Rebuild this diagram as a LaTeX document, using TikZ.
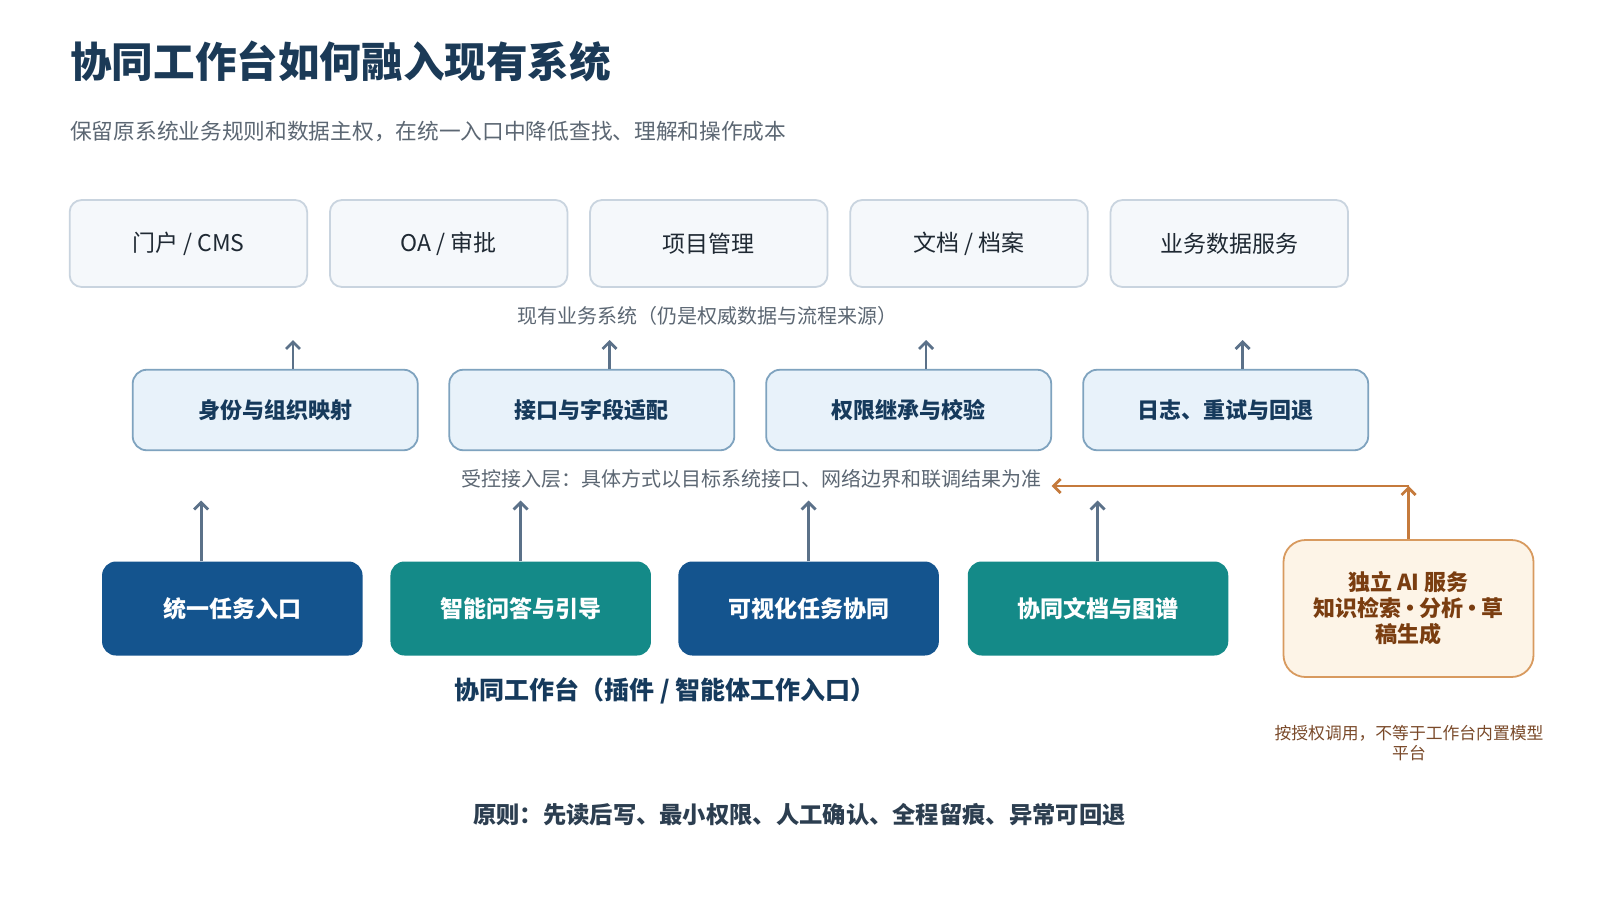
\documentclass[tikz,border=0pt]{standalone}
\usepackage{fontspec}
\setmainfont{Noto Sans CJK SC}
\usetikzlibrary{arrows.meta,calc}
\definecolor{titlec}{HTML}{1B3A57}
\definecolor{subc}{HTML}{5C6773}
\definecolor{sysfill}{HTML}{F5F8FB}
\definecolor{sysborder}{HTML}{C9D4DF}
\definecolor{systext}{HTML}{1F2933}
\definecolor{midfill}{HTML}{E8F2FA}
\definecolor{midborder}{HTML}{7FA3BF}
\definecolor{midtext}{HTML}{163A5C}
\definecolor{arrowc}{HTML}{5B7189}
\definecolor{bluec}{HTML}{14548E}
\definecolor{tealc}{HTML}{148A88}
\definecolor{aifill}{HTML}{FDF4E7}
\definecolor{aiborder}{HTML}{D89A5F}
\definecolor{aitext}{HTML}{7A3D10}
\definecolor{orc}{HTML}{C57A3C}
\definecolor{capc}{HTML}{7A4A2A}
\definecolor{princ}{HTML}{2C3E50}
\begin{document}
\begin{tikzpicture}[x=1pt,y=-1pt,
  sysbox/.style={draw=sysborder, fill=sysfill, line width=1.8pt, rounded corners=12pt,
    minimum width=237.5pt, minimum height=87pt, font=\fontsize{23}{27}\selectfont, text=systext},
  midbox/.style={draw=midborder, fill=midfill, line width=1.8pt, rounded corners=14pt,
    minimum width=285pt, minimum height=80.5pt, font=\fontsize{22}{26}\selectfont\bfseries, text=midtext},
  workbox/.style={rounded corners=14pt, minimum width=260.5pt, minimum height=94pt,
    font=\fontsize{23}{27}\selectfont\bfseries, text=white},
  bluebox/.style={workbox, fill=bluec},
  tealbox/.style={workbox, fill=tealc},
  aibox/.style={draw=aiborder, fill=aifill, line width=1.8pt, rounded corners=22pt,
    minimum width=250pt, minimum height=137pt, align=center,
    font=\fontsize{22}{26}\selectfont\bfseries, text=aitext},
  uparrow/.style={draw=arrowc, line width=2.8pt, -{Straight Barb[length=7pt,width=14pt,line width=2.8pt]}},
  orarrow/.style={draw=orc, line width=2.8pt, -{Straight Barb[length=7pt,width=14pt,line width=2.8pt]}},
  lbl/.style={font=\fontsize{20}{24}\selectfont, text=subc, inner sep=0pt}
]
\useasboundingbox[fill=white] (0,0) rectangle (1600,900);

% title and subtitle
\node[anchor=west, inner sep=0pt, font=\fontsize{41.6}{48}\selectfont\bfseries, text=titlec] (title) at (70,61) {协同工作台如何融入现有系统};
\node[anchor=west, inner sep=0pt, font=\fontsize{21.7}{26}\selectfont, text=subc] (subtitle) at (70,131) {保留原系统业务规则和数据主权，在统一入口中降低查找、理解和操作成本};

% existing systems
\node[sysbox] (s1) at (188.4,243.5) {门户 / CMS};
\node[sysbox] (s2) at (448.7,243.5) {OA / 审批};
\node[sysbox] (s3) at (708.8,243.5) {项目管理};
\node[sysbox] (s4) at (969,243.5) {文档 / 档案};
\node[sysbox] (s5) at (1229.3,243.5) {业务数据服务};
\node[lbl] (syslbl) at (707.5,315.5) {现有业务系统（仍是权威数据与流程来源）};

% access layer
\node[midbox] (m1) at (275.2,410) {身份与组织映射};
\node[midbox] (m2) at (591.8,410) {接口与字段适配};
\node[midbox] (m3) at (908.7,410) {权限继承与校验};
\node[midbox] (m4) at (1225.7,410) {日志、重试与回退};
\node[lbl] (midlbl) at (751,479) {受控接入层：具体方式以目标系统接口、网络边界和联调结果为准};

\coordinate (t1) at (293,340);
\coordinate (t2) at (609.5,340);
\coordinate (t3) at (926,340);
\coordinate (t4) at (1242.6,340);
\draw[uparrow] (m1.north -| t1) -- (t1);
\draw[uparrow] (m2.north -| t2) -- (t2);
\draw[uparrow] (m3.north -| t3) -- (t3);
\draw[uparrow] (m4.north -| t4) -- (t4);

% workbench
\node[bluebox] (b1) at (232.3,608.5) {统一任务入口};
\node[tealbox] (b2) at (520.7,608.5) {智能问答与引导};
\node[bluebox] (b3) at (808.6,608.5) {可视化任务协同};
\node[tealbox] (b4) at (1098,608.5) {协同文档与图谱};
\node[inner sep=0pt, font=\fontsize{25}{29}\selectfont\bfseries, text=midtext] (wblbl) at (665,691) {协同工作台（插件 / 智能体工作入口）};

\coordinate (u1) at (201.1,500.5);
\coordinate (u2) at (520.7,500.5);
\coordinate (u3) at (808.6,500.5);
\coordinate (u4) at (1097.6,500.5);
\draw[uparrow] (b1.north -| u1) -- (u1);
\draw[uparrow] (b2.north -| u2) -- (u2);
\draw[uparrow] (b3.north -| u3) -- (u3);
\draw[uparrow] (b4.north -| u4) -- (u4);

% AI service
\node[aibox] (ai) at (1408.5,608.5) {独立 AI 服务\\知识检索\kern-0.08em·\kern-0.08em分析\kern-0.08em·\kern-0.08em草\\稿生成};
\coordinate (oc) at (1408.5,486);
\coordinate (ol) at (1051.6,486);
\draw[orarrow] (ai.north) -- (oc);
\draw[orarrow] (oc) -- (ol);
\node[inner sep=0pt, align=center, font=\fontsize{16.8}{20.5}\selectfont, text=capc] (aicap) at (1409,743) {按授权调用，不等于工作台内置模型\\平台};

% principle
\node[inner sep=0pt, font=\fontsize{23.3}{27}\selectfont\bfseries, text=princ] (principle) at (799.4,814.7) {原则：先读后写、最小权限、人工确认、全程留痕、异常可回退};
\end{tikzpicture}
\end{document}
